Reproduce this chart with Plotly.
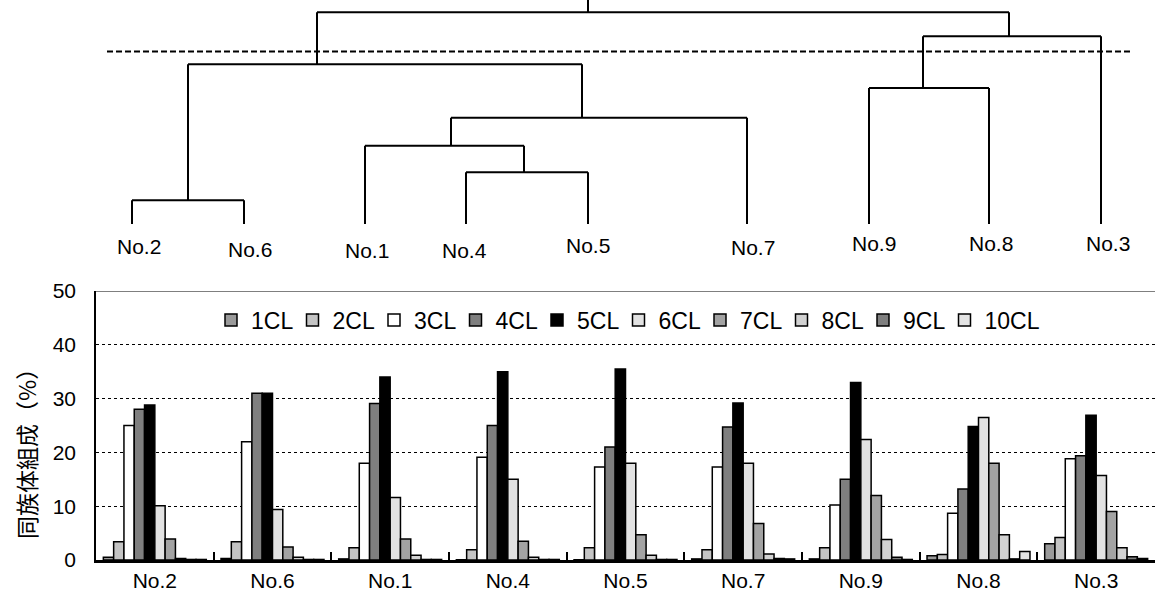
import plotly.graph_objects as go

# ---------------- data ----------------
samples = ["No.2", "No.6", "No.1", "No.4", "No.5", "No.7", "No.9", "No.8", "No.3"]
congeners = ["1CL", "2CL", "3CL", "4CL", "5CL", "6CL", "7CL", "8CL", "9CL", "10CL"]

cl1 = [0.5, 0.3, 0.2, 0.05, 0.05, 0.2, 0.2, 0.8, 3.0]
cl2 = [3.4, 3.4, 2.3, 1.9, 2.3, 1.9, 2.3, 1.0, 4.2]
cl3 = [25.0, 22.0, 18.0, 19.1, 17.3, 17.3, 10.2, 8.7, 18.8]
cl4 = [28.0, 31.0, 29.1, 25.0, 21.0, 24.7, 15.0, 13.2, 19.4]
cl5 = [28.8, 31.0, 34.0, 35.0, 35.5, 29.2, 33.0, 24.8, 26.9]
cl6 = [10.1, 9.4, 11.6, 15.0, 18.0, 18.0, 22.4, 26.5, 15.7]
cl7 = [3.9, 2.4, 3.9, 3.5, 4.7, 6.8, 12.0, 18.0, 9.0]
cl8 = [0.3, 0.5, 0.9, 0.5, 0.9, 1.1, 3.8, 4.7, 2.3]
cl9 = [0.1, 0.1, 0.1, 0.1, 0.1, 0.3, 0.5, 0.2, 0.6]
cl10 = [0.1, 0.1, 0.1, 0.1, 0.1, 0.2, 0.1, 1.6, 0.3]
series = [cl1, cl2, cl3, cl4, cl5, cl6, cl7, cl8, cl9, cl10]

y_ticks = [0, 10, 20, 30, 40, 50]
y_title = "同族体組成（%）"

# dendrogram (leaves in the same order as samples)
leaf_pos = [132, 244, 365, 466, 588, 747, 869, 989, 1101]
merge_a = [0, 3, 2, 11, 6, 9, 13, 14]
merge_b = [1, 4, 10, 5, 7, 12, 8, 15]
merge_dist = [2.8, 6.1, 9.2, 12.5, 16.0, 18.8, 22.1, 24.9]
merge_pos = [188, 524, 451, 582, 923, 317, 1009, 588]
cut_dist = 20.3

# ---------------- styles ----------------
W, H = 1156, 610
colors = ["#9a9a9a", "#c4c4c4", "#ffffff", "#7f7f7f", "#000000",
          "#e2e2e2", "#a3a3a3", "#d2d2d2", "#7f7f7f", "#e4e4e4"]
FONT = "Liberation Sans, Arial, sans-serif"
CJK = "Noto Sans CJK JP, sans-serif"
label_dx = [7, 6, 2, -2, 0, 6, 5, 2, 7]
label_dy = [22, 25, 26, 26, 21, 23, 19, 19, 19]
dendro_top_px, dendro_leaf_px = 0, 224
dendro_range_top = 26.35
cut_span = [107, 1133]

fig = go.Figure()

for name, vals, col in zip(congeners, series, colors):
    fig.add_trace(go.Bar(
        x=samples, y=vals, name=name,
        marker=dict(color=col, line=dict(color="black", width=1.5)),
        xaxis="x", yaxis="y",
        legendwidth=52 if name == congeners[-1] else None,
    ))

# dendrogram lines
n = len(leaf_pos)
node_x = list(leaf_pos) + list(merge_pos)
node_h = [0.0] * n + list(merge_dist)
lx, ly = [], []
for i, (a, b) in enumerate(zip(merge_a, merge_b)):
    h = merge_dist[i]
    for c in (a, b):
        lx += [node_x[c], node_x[c], None]
        ly += [node_h[c], h, None]
    lx += [node_x[a], node_x[b], None]
    ly += [h, h, None]
root = n + len(merge_a) - 1
lx += [node_x[root], node_x[root], None]
ly += [node_h[root], dendro_range_top, None]
fig.add_trace(go.Scatter(x=lx, y=ly, mode="lines", line=dict(color="black", width=2),
                         xaxis="x2", yaxis="y2", showlegend=False, hoverinfo="skip"))

# cut line
fig.add_shape(type="line", xref="x2", yref="y2", x0=cut_span[0], x1=cut_span[1],
              y0=cut_dist, y1=cut_dist, line=dict(color="black", width=2, dash="6px,3px"))

# leaf labels
for name, px, dx, dy in zip(samples, leaf_pos, label_dx, label_dy):
    fig.add_annotation(x=px, y=0, xref="x2", yref="y2", text=name, showarrow=False,
                       xshift=dx, yshift=-dy, yanchor="middle",
                       font=dict(family=FONT, size=21, color="black"))

# top border of bar plot
fig.add_shape(type="line", xref="x domain", yref="y", x0=0, x1=1, y0=50, y1=50,
              line=dict(color="black", width=1))

fig.add_annotation(x=26 / W, y=(H - 448) / H, xref="paper", yref="paper", text=y_title,
                   textangle=-90, showarrow=False, xanchor="center", yanchor="middle",
                   font=dict(family=CJK, size=23, color="black"))

fig.update_layout(
    width=W, height=H, autosize=False,
    margin=dict(l=0, r=0, t=0, b=0),
    paper_bgcolor="white", plot_bgcolor="white",
    barmode="group", bargap=0.125, bargroupgap=0,
    font=dict(family=FONT, size=20, color="black"),
    showlegend=True,
    legend=dict(orientation="h", x=211 / W, xanchor="left", y=(H - 320) / H, yanchor="middle",
                entrywidth=36.5, entrywidthmode="pixels", font=dict(family=FONT, size=23),
                bgcolor="rgba(0,0,0,0)", traceorder="normal"),
    xaxis=dict(domain=[96 / W, 1155 / W], type="category", tickson="boundaries",
               ticks="inside", ticklen=8, tickwidth=1.5, tickcolor="black",
               showline=True, linewidth=2.5, linecolor="black", showgrid=False,
               tickfont=dict(family=FONT, size=21), ticklabelstandoff=0, automargin=False),
    yaxis=dict(domain=[(H - 560) / H, (H - 291) / H], range=[0, 50], tickvals=y_ticks,
               showgrid=True, gridcolor="black", gridwidth=1.2, griddash="dot",
               showline=True, linewidth=1.5, linecolor="black", ticks="", zeroline=False,
               tickfont=dict(family=FONT, size=21), ticklabelstandoff=14, automargin=False),
    xaxis2=dict(domain=[0, 1], range=[0, W], visible=False, anchor="y2", fixedrange=True),
    yaxis2=dict(domain=[(H - dendro_leaf_px) / H, (H - dendro_top_px) / H],
                range=[0, dendro_range_top], visible=False, anchor="x2", fixedrange=True),
)

fig.write_html("out.html", config={"displayModeBar": False},
               post_script="document.body.style.margin='0';")
